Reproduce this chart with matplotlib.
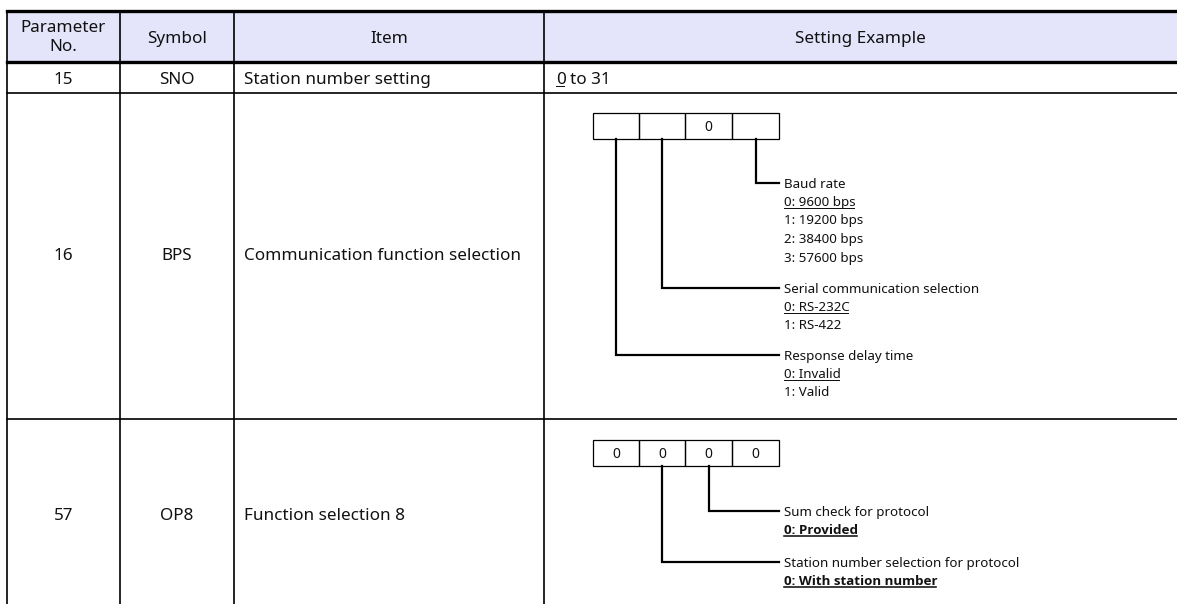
import matplotlib.pyplot as plt
from matplotlib import font_manager

plt.rcParams['font.family'] = ['Noto Sans', 'DejaVu Sans']

# table content
headers = ['Parameter\nNo.', 'Symbol', 'Item', 'Setting Example']
param_no = ['15', '16', '57']
symbols = ['SNO', 'BPS', 'OP8']
items = ['Station number setting', 'Communication function selection', 'Function selection 8']
sno_range = ['0', 'to 31']

bps_boxes = ['', '', '0', '']
bps_fields = [
    (3, 'Baud rate', ['0: 9600 bps', '1: 19200 bps', '2: 38400 bps', '3: 57600 bps']),
    (1, 'Serial communication selection', ['0: RS-232C', '1: RS-422']),
    (0, 'Response delay time', ['0: Invalid', '1: Valid']),
]
op8_boxes = ['0', '0', '0', '0']
op8_fields = [
    (2, 'Sum check for protocol', ['0: Provided']),
    (1, 'Station number selection for protocol', ['0: With station number']),
]

W, H = 1177, 604
COL_X = [7, 120, 234, 544, W]
ROW_Y = [11, 62, 93, 419, H]
HEADER_BG = '#E4E4FA'
FS = 12.3
FS_SMALL = 9.6
BOX_X = [593, 639, 685, 732, 779]
BOX_H = 26
LINE_STEP = 18.8

# pick a family that really has a bold face
BOLD_FAMILY = 'DejaVu Sans'
for fam in ['Noto Sans', 'Open Sans', 'Lato', 'Roboto']:
    try:
        path = font_manager.findfont(font_manager.FontProperties(family=fam, weight='bold'),
                                     fallback_to_default=False)
    except Exception:
        continue
    if 'bold' in path.lower():
        BOLD_FAMILY = fam
        break

fig = plt.figure(figsize=(W / 100, H / 100), dpi=100)
ax = fig.add_axes([0, 0, 1, 1])
ax.set_xlim(0, W)
ax.set_ylim(H, 0)
ax.axis('off')

underlined = []


def put(x, y, s, fs=FS, ha='left', bold=False, uline=False):
    # y is the visual middle of the caps, convert to baseline
    base = y + fs * 100 / 72 * 0.36
    kw = {}
    if bold:
        kw = dict(fontweight='bold', family=[BOLD_FAMILY, 'DejaVu Sans'])
    t = ax.text(x, base, s, fontsize=fs, ha=ha, va='baseline', color='#111111', **kw)
    if uline:
        underlined.append((t, base, 1.6 if bold else 1.0))
    return t


# header background and grid
ax.fill_between([COL_X[0], W], ROW_Y[0], ROW_Y[1], color=HEADER_BG, lw=0)
for x in COL_X[:-1]:
    ax.plot([x, x], [ROW_Y[0], H], color='black', lw=1.2)
ax.plot([COL_X[0], W], [ROW_Y[0], ROW_Y[0]], color='black', lw=2.4)
ax.plot([COL_X[0], W], [ROW_Y[1], ROW_Y[1]], color='black', lw=2.4)
for y in ROW_Y[2:4]:
    ax.plot([COL_X[0], W], [y, y], color='black', lw=1.2)

# header text
hy = (ROW_Y[0] + ROW_Y[1]) / 2
ax.text((COL_X[0] + COL_X[1]) / 2, hy + 1, headers[0], fontsize=FS, ha='center',
        va='center', linespacing=1.2, color='#111111')
for i in range(1, 4):
    put((COL_X[i] + COL_X[i + 1]) / 2, hy, headers[i], ha='center')

# body rows
row_mid = [(ROW_Y[2] + ROW_Y[1]) / 2, (ROW_Y[3] + ROW_Y[2]) / 2 - 2, 514]
for i in range(3):
    put((COL_X[0] + COL_X[1]) / 2, row_mid[i], param_no[i], ha='center')
    put((COL_X[1] + COL_X[2]) / 2, row_mid[i], symbols[i], ha='center')
    put(COL_X[2] + 10, row_mid[i], items[i])

t0 = put(COL_X[3] + 12, row_mid[0], sno_range[0], uline=True)


def draw_diagram(box_top, values, fields, leader_y, bold_default=False):
    for k in range(4):
        ax.add_patch(plt.Rectangle((BOX_X[k], box_top), BOX_X[k + 1] - BOX_X[k], BOX_H,
                                   fill=False, ec='black', lw=0.9))
        if values[k]:
            put((BOX_X[k] + BOX_X[k + 1]) / 2, box_top + BOX_H / 2, values[k],
                fs=FS_SMALL + 0.4, ha='center')
    for (idx, title, opts), ly in zip(fields, leader_y):
        cx = (BOX_X[idx] + BOX_X[idx + 1]) / 2
        ax.plot([cx, cx, BOX_X[-1]], [box_top + BOX_H, ly, ly], color='black',
                lw=1.6, solid_joinstyle='miter')
        put(BOX_X[-1] + 5, ly, title, fs=FS_SMALL)
        for j, o in enumerate(opts):
            put(BOX_X[-1] + 5, ly + LINE_STEP * (j + 1) - 1, o, fs=FS_SMALL,
                bold=bold_default and j == 0, uline=(j == 0))


draw_diagram(113, bps_boxes, bps_fields, [183, 288, 355])
draw_diagram(440, op8_boxes, op8_fields, [511, 562], bold_default=True)

# underlines need the rendered text widths
fig.canvas.draw()
r = fig.canvas.get_renderer()
inv = ax.transData.inverted()
for t, base, lw in underlined:
    bb = t.get_window_extent(r)
    (x0, _), (x1, _) = inv.transform([[bb.x0, bb.y0], [bb.x1, bb.y1]])
    ax.plot([x0, x1 - 1.5], [base + 2.5, base + 2.5], color='#111111', lw=lw * 0.72)

bb = t0.get_window_extent(r)
x_end = inv.transform([[bb.x1, bb.y0]])[0][0]
put(x_end + 4, row_mid[0], sno_range[1])

fig.savefig('out.png', dpi=100)
